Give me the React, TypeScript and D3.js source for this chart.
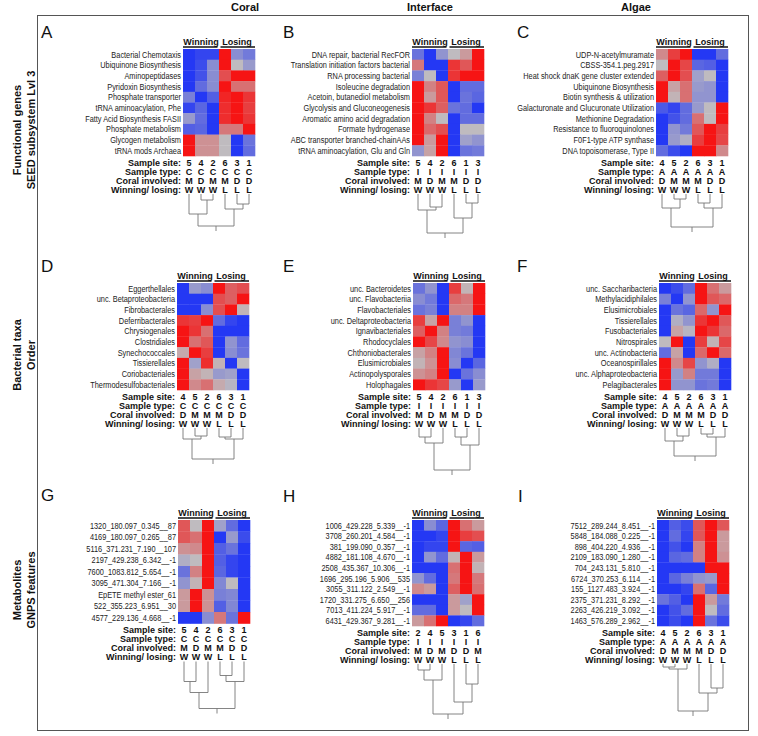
import React from "react";
import * as d3 from "d3";

type Tree = number | [Tree, Tree, number];

// ---------- Column / row headings ----------
const columnTitles = ["Coral", "Interface", "Algae"];
const rowTitles = [
  ["Functional genes", "SEED subsystem Lvl 3"],
  ["Bacterial taxa", "Order"],
  ["Metabolites", "GNPS features"],
];
const metaLabels = ["Sample site:", "Sample type:", "Coral involved:", "Winning/ losing:"];
const groupLabels = ["Winning", "Losing"];

// ---------- Panel A ----------
const labelsA = ["Bacterial Chemotaxis", "Ubiquinone Biosynthesis", "Aminopeptidases", "Pyridoxin Biosynthesis", "Phosphate transporter", "tRNA aminoacylation, Phe", "Fatty Acid Biosynthesis FASII", "Phosphate metabolism", "Glycogen metabolism", "tRNA mods Archaea"];
const sitesA = ["5", "4", "2", "6", "3", "1"];
const typesA = ["C", "C", "C", "C", "C", "C"];
const coralA = ["M", "D", "M", "M", "D", "D"];
const outcomeA = ["W", "W", "W", "L", "L", "L"];
const valuesA = [
  [-1, -0.9, -0.9, 1, -0.35, -0.5],
  [-1, -0.85, -0.35, 1, 0, -0.25],
  [-1, -0.8, -0.35, 0.65, 1, 1],
  [-1, -0.6, -0.35, 1, 0.45, 0.45],
  [-0.45, -1, -0.7, 0.9, 1, 0.8],
  [-0.9, -0.65, -1, 0.85, 1, 0.75],
  [-0.25, -0.6, -1, 0.85, 1, 0.8],
  [-0.7, -0.65, -1, 0.4, 0.4, 1],
  [1, 0.25, 0.25, 0, -1, -0.55],
  [1, 0.25, 0.25, 0, -1, -0.6],
];
const treeA: Tree = [[0, [1, 2, 6], 20], [3, [4, 5, 10], 15], 32];

// ---------- Panel B ----------
const labelsB = ["DNA repair, bacterial RecFOR", "Translation initiation factors bacterial", "RNA processing bacterial", "Isoleucine degradation", "Acetoin, butanediol metabolism", "Glycolysis and Gluconeogenesis", "Aromatic amino acid degradation", "Formate hydrogenase", "ABC transporter branched-chainAAs", "tRNA aminoacylation, Glu and Gln"];
const sitesB = ["5", "4", "2", "6", "1", "3"];
const typesB = ["I", "I", "I", "I", "I", "I"];
const coralB = ["M", "D", "M", "M", "D", "D"];
const outcomeB = ["W", "W", "W", "L", "L", "L"];
const valuesB = [
  [-0.55, -1, -0.3, 0, 0.2, 1],
  [0.4, -1, -1, 0.8, 0.6, 1],
  [-0.45, 0, -1, 0.8, 1, 1],
  [1, 0.35, 0.6, -1, -0.6, -0.6],
  [1, 0.2, 0.6, -1, -0.55, -0.65],
  [1, 0.8, 0.55, -0.55, -0.6, -1],
  [1, 0.35, 0, -1, -0.6, -0.6],
  [1, 0.5, 0.65, -1, 0, 0],
  [1, 0.2, 1, -1, -0.2, -0.3],
  [-0.3, 0.15, 1, -1, -0.55, -0.5],
];
const treeB: Tree = [[0, [1, 2, 13], 16], [3, [4, 5, 9], 24], 39];

// ---------- Panel C ----------
const labelsC = ["UDP-N-acetylmuramate", "CBSS-354.1.peg.2917", "Heat shock dnaK gene cluster extended", "Ubiquinone Biosynthesis", "Biotin synthesis & utilization", "Galacturonate and Glucuronate Utilization", "Methionine Degradation", "Resistance to fluoroquinolones", "F0F1-type ATP synthase", "DNA topoisomerase, Type II"];
const sitesC = ["4", "5", "2", "6", "3", "1"];
const typesC = ["A", "A", "A", "A", "A", "A"];
const coralC = ["D", "M", "M", "M", "D", "D"];
const outcomeC = ["W", "W", "W", "L", "L", "L"];
const valuesC = [
  [0.3, 0.75, 1, -1, -1, -0.6],
  [0, 1, 0.7, -0.65, -0.7, -1],
  [0.55, 1, 0.65, -0.2, 0, -1],
  [1, 0.15, 0.45, -0.25, -0.3, -1],
  [1, 0.05, 0.45, -0.3, -0.3, -1],
  [-0.75, -0.9, -0.6, -0.25, 0, 1],
  [-1, -0.8, -0.6, 0.45, 0, 1],
  [-1, -0.3, -0.5, 0.6, 1, 0.75],
  [-1, -0.25, -0.1, 0.75, 1, 0.7],
  [-0.6, -0.85, -1, 1, 1, 0.3],
];
const treeC: Tree = [[0, [1, 2, 5], 14], [[3, 4, 9], 5, 14], 33];

// ---------- Panel D ----------
const labelsD = ["Eggerthellales", "unc. Betaproteobacteria", "Fibrobacterales", "Deferribacterales", "Chrysiogenales", "Clostridiales", "Synechococcales", "Tissierellales", "Coriobacteriales", "Thermodesulfobacteriales"];
const sitesD = ["4", "5", "2", "6", "3", "1"];
const typesD = ["C", "C", "C", "C", "C", "C"];
const coralD = ["D", "M", "M", "M", "D", "D"];
const outcomeD = ["W", "W", "W", "L", "L", "L"];
const valuesD = [
  [-1, -0.25, -0.35, 1, 0.55, 0.65],
  [-1, -1, -1, 0.65, 0.55, 1],
  [-1, -1, -0.35, 0.65, 1, 0.05],
  [0.8, 0.75, 1, -0.6, -0.9, -1],
  [1, 0.8, 0.45, -1, -1, -1],
  [1, 0.45, 0.6, -1, -0.3, -0.6],
  [0.1, 1, 0.75, -1, -0.35, -0.55],
  [1, -0.2, 0.85, 0.05, -1, 0],
  [1, 0.15, 0.05, -0.25, -0.2, -1],
  [1, 0.3, 0.45, 0.1, -0.05, -1],
];
const treeD: Tree = [[0, [1, 2, 8], 11], [[3, 4, 9], 5, 11], 31];

// ---------- Panel E ----------
const labelsE = ["unc. Bacteroidetes", "unc. Flavobacteriia", "Flavobacteriales", "unc. Deltaproteobacteria", "Ignavibacteriales", "Rhodocyclales", "Chthoniobacterales", "Elusimicrobiales", "Actinopolysporales", "Holophagales"];
const sitesE = ["5", "4", "2", "6", "1", "3"];
const typesE = ["I", "I", "I", "I", "I", "I"];
const coralE = ["M", "D", "M", "M", "D", "D"];
const outcomeE = ["W", "W", "W", "L", "L", "L"];
const valuesE = [
  [-0.55, -0.3, -1, 0.75, 0.05, 1],
  [-0.35, -0.5, -1, 0.5, 0.4, 1],
  [-0.55, -0.45, -1, 0.35, 0.35, 1],
  [0.75, 0.15, 1, -0.45, -0.3, -1],
  [0.55, 1, 0.35, -0.45, -0.5, -1],
  [1, 0.7, 0.3, -0.3, -0.35, -1],
  [0.15, 0.35, 1, -0.4, -0.55, -1],
  [0.05, 0.25, 1, -0.35, -1, -0.65],
  [0.25, 0.35, 1, -1, -0.55, -0.35],
  [1, 0.8, 0.7, -0.25, -1, -0.25],
];
const treeE: Tree = [[[0, 1, 9], 2, 15], [[3, 4, 9], 5, 17], 42];

// ---------- Panel F ----------
const labelsF = ["unc. Saccharibacteria", "Methylacidiphilales", "Elusimicrobiales", "Tissierellales", "Fusobacteriales", "Nitrospirales", "unc. Actinobacteria", "Oceanospirillales", "unc. Alphaproteobacteria", "Pelagibacterales"];
const sitesF = ["4", "5", "2", "6", "3", "1"];
const typesF = ["A", "A", "A", "A", "A", "A"];
const coralF = ["D", "M", "M", "M", "D", "D"];
const outcomeF = ["W", "W", "W", "L", "L", "L"];
const valuesF = [
  [-1, -0.85, -0.6, 1, 0.45, 0.2],
  [-0.45, -1, -0.3, 1, 0.6, 0.5],
  [-1, -0.55, -0.65, 0.5, -0.3, 1],
  [-1, -0.1, -0.3, 0.8, 1, 0.6],
  [-1, 0.15, -0.05, 1, 0.8, 0.5],
  [0, 1, -1, 0.75, 0.05, 0.7],
  [-0.6, 0.15, -1, 0.5, 1, 0.5],
  [1, 0.3, 0.7, -0.3, -0.1, -1],
  [1, -0.25, 0.35, -0.5, -0.5, -1],
  [1, -0.3, -0.3, -0.55, -0.5, -1],
];
const treeF: Tree = [[0, [1, 2, 8], 13], [[3, 4, 6], 5, 9], 28];

// ---------- Panel G ----------
const labelsG = ["1320_180.097_0.345__87", "4169_180.097_0.265__87", "5116_371.231_7.190__107", "2197_429.238_6.342__-1", "7600_1083.812_5.654__-1", "3095_471.304_7.166__-1", "EpETE methyl ester_61", "522_355.223_6.951__30", "4577_229.136_4.668__-1"];
const sitesG = ["5", "4", "2", "6", "3", "1"];
const typesG = ["C", "C", "C", "C", "C", "C"];
const coralG = ["M", "D", "M", "M", "D", "D"];
const outcomeG = ["W", "W", "W", "L", "L", "L"];
const valuesG = [
  [0.6, 0, 1, -0.2, -0.6, -1],
  [0.6, 0.45, 1, -1, -0.25, -0.85],
  [0.25, 0.3, 1, -0.7, -0.55, -1],
  [-0.1, 0, 1, -0.7, -0.9, -1],
  [-0.55, 0.35, 1, -0.65, -0.9, -1],
  [-0.3, 0.05, 1, -0.4, 0, -1],
  [0.2, 1, 0.25, -0.45, -0.4, -1],
  [0.2, 1, 0.25, -0.7, -0.4, -1],
  [-1, -1, -0.35, 0.4, -0.55, 1],
];
const treeG: Tree = [[[0, 1, 20], 2, 31], [[3, 4, 14], 5, 20], 47];

// ---------- Panel H ----------
const labelsH = ["1006_429.228_5.339__-1", "3708_260.201_4.584__-1", "381_199.090_0.357__-1", "4882_181.108_4.670__-1", "2508_435.367_10.306__-1", "1696_295.196_5.906__535", "3055_311.122_2.549__-1", "1720_331.275_6.650__256", "7013_411.224_5.917__-1", "6431_429.367_9.281__-1"];
const sitesH = ["2", "4", "5", "3", "1", "6"];
const typesH = ["I", "I", "I", "I", "I", "I"];
const coralH = ["M", "D", "M", "D", "D", "M"];
const outcomeH = ["W", "W", "W", "L", "L", "L"];
const valuesH = [
  [-1, -0.35, -0.65, 1, 0.45, 0.2],
  [-1, -1, -0.9, 1, 0.75, 0.65],
  [-1, -0.9, -0.9, 1, -0.65, -0.7],
  [-1, -0.3, -0.6, 0.05, 1, 0.2],
  [-1, -1, -1, 0.45, 1, 0.05],
  [-0.3, -0.6, -1, 0.4, 1, 0.4],
  [0.3, 0.2, -1, 0.55, 1, 0.45],
  [-1, -1, -1, 0.2, -0.2, 1],
  [-0.6, -0.6, -1, 0.2, 0, 1],
  [0.2, 0.45, 1, -1, -0.9, -0.6],
];
const treeH: Tree = [[[0, 1, 6], 2, 16], [3, [4, 5, 20], 38], 50];

// ---------- Panel I ----------
const labelsI = ["7512_289.244_8.451__-1", "5848_184.088_0.225__-1", "898_404.220_4.936__-1", "2109_183.090_1.280__-1", "704_243.131_5.810__-1", "6724_370.253_6.114__-1", "155_1127.483_3.924__-1", "2375_371.231_8.292__-1", "2263_426.219_3.092__-1", "1463_576.289_2.962__-1"];
const sitesI = ["4", "5", "2", "6", "3", "1"];
const typesI = ["A", "A", "A", "A", "A", "A"];
const coralI = ["D", "M", "M", "M", "D", "D"];
const outcomeI = ["W", "W", "W", "L", "L", "L"];
const valuesI = [
  [-1, -0.7, -0.85, 0.6, 1, 0.6],
  [-1, -0.6, -0.9, 0.6, 1, 0.2],
  [-1, -0.8, -1, 0.35, 1, 0.2],
  [-1, -0.65, -0.6, 0.35, 1, 0.25],
  [-1, -1, -1, -1, 1, 1],
  [-1, -0.65, -0.45, -0.3, -0.25, 1],
  [-1, -1, -0.9, 0.45, -0.65, 1],
  [-0.55, -0.7, -1, 1, 0.2, -0.5],
  [-1, -0.8, -0.6, 1, 0, -0.6],
  [-1, -0.85, -1, 1, -0.55, -0.85],
];
const treeI: Tree = [[[0, 1, 3], 2, 5], [3, [4, 5, 24], 29], 47];

// ---------- assembly ----------
const panels = [
  { id: "A", labels: labelsA, sites: sitesA, types: typesA, coral: coralA, outcome: outcomeA, values: valuesA, tree: treeA },
  { id: "B", labels: labelsB, sites: sitesB, types: typesB, coral: coralB, outcome: outcomeB, values: valuesB, tree: treeB },
  { id: "C", labels: labelsC, sites: sitesC, types: typesC, coral: coralC, outcome: outcomeC, values: valuesC, tree: treeC },
  { id: "D", labels: labelsD, sites: sitesD, types: typesD, coral: coralD, outcome: outcomeD, values: valuesD, tree: treeD },
  { id: "E", labels: labelsE, sites: sitesE, types: typesE, coral: coralE, outcome: outcomeE, values: valuesE, tree: treeE },
  { id: "F", labels: labelsF, sites: sitesF, types: typesF, coral: coralF, outcome: outcomeF, values: valuesF, tree: treeF },
  { id: "G", labels: labelsG, sites: sitesG, types: typesG, coral: coralG, outcome: outcomeG, values: valuesG, tree: treeG },
  { id: "H", labels: labelsH, sites: sitesH, types: typesH, coral: coralH, outcome: outcomeH, values: valuesH, tree: treeH },
  { id: "I", labels: labelsI, sites: sitesI, types: typesI, coral: coralI, outcome: outcomeI, values: valuesI, tree: treeI },
];

// layout (positions only)
const layout: Record<string, { x: number; y: number; rowH: number; lx: number; ly: number }> = {
  A: { x: 183, y: 49, rowH: 10.7, lx: 41, ly: 38 },
  B: { x: 412, y: 49, rowH: 10.7, lx: 283, ly: 38 },
  C: { x: 656, y: 49, rowH: 10.7, lx: 517, ly: 38 },
  D: { x: 177, y: 283, rowH: 10.7, lx: 41, ly: 272 },
  E: { x: 413, y: 283, rowH: 10.7, lx: 283, ly: 272 },
  F: { x: 659, y: 283, rowH: 10.7, lx: 517, ly: 272 },
  G: { x: 178, y: 520, rowH: 11.5, lx: 41, ly: 501 },
  H: { x: 412, y: 520, rowH: 10.6, lx: 283, ly: 502 },
  I: { x: 657, y: 520, rowH: 10.6, lx: 518, ly: 502 },
};
const colTitleX = [245, 430, 636];
const rowTitleY = [130, 355, 590];

const FONT = "'Liberation Sans', Arial, Helvetica, sans-serif";
const color = d3
  .scaleLinear<string>()
  .domain([-1, 0, 1])
  .range(["#2438f4", "#bfbbbf", "#f61414"])
  .interpolate(d3.interpolateRgb);

function Panel({ p }: { p: (typeof panels)[number] }) {
  const L = layout[p.id];
  const n = p.labels.length;
  const cols = d3.range(6);
  const x = d3.scaleBand<number>().domain(cols).range([L.x, L.x + 72]);
  const y = d3.scaleBand<number>().domain(d3.range(n)).range([L.y, L.y + L.rowH * n]);
  const bottom = L.y + L.rowH * n;
  const meta = [p.sites, p.types, p.coral, p.outcome];
  const leafTop = bottom + 38;
  const segs: [number, number, number, number][] = [];
  const walk = (t: Tree): { cx: number; cy: number } => {
    if (typeof t === "number") return { cx: (x(t) as number) + x.bandwidth() / 2, cy: leafTop };
    const l = walk(t[0]);
    const r = walk(t[1]);
    const yy = leafTop + t[2];
    segs.push([l.cx, l.cy, l.cx, yy], [r.cx, r.cy, r.cx, yy], [l.cx, yy, r.cx, yy]);
    return { cx: (l.cx + r.cx) / 2, cy: yy };
  };
  const root = walk(p.tree);
  segs.push([root.cx, root.cy, root.cx, root.cy + 5]);
  const groups = [
    { label: groupLabels[0], x0: x(0) as number, x1: (x(2) as number) + x.bandwidth() },
    { label: groupLabels[1], x0: x(3) as number, x1: (x(5) as number) + x.bandwidth() },
  ];
  return (
    <g>
      <text x={L.lx} y={L.ly} fontSize={17} fontFamily={FONT} fill="#111">
        {p.id}
      </text>
      {groups.map((g, i) => (
        <g key={i}>
          <text x={(g.x0 + g.x1) / 2} y={L.y - 4.5} fontSize={9} fontWeight="bold" textAnchor="middle" fontFamily={FONT} fill="#111">
            {g.label}
          </text>
          <line x1={g.x0 + (i === 0 ? 0 : 1.5)} x2={g.x1 - (i === 0 ? 1.5 : 0)} y1={L.y - 2} y2={L.y - 2} stroke="#111" strokeWidth={1.3} />
        </g>
      ))}
      {p.values.map((row, ri) =>
        row.map((v, ci) => (
          <rect key={ri + "-" + ci} x={x(ci)} y={y(ri)} width={x.bandwidth() + 0.3} height={y.bandwidth() + 0.3} fill={color(v)} />
        ))
      )}
      {p.labels.map((lab, ri) => (
        <text
          key={ri}
          transform={`translate(${L.x - 2},${(y(ri) as number) + y.bandwidth() / 2 + 3.2}) scale(0.82,1)`}
          fontSize={9}
          textAnchor="end"
          fontFamily={FONT}
          fill="#222"
        >
          {lab}
        </text>
      ))}
      {metaLabels.map((m, mi) => (
        <g key={mi}>
          <text x={L.x - 2} y={bottom + 9.5 + mi * 9} fontSize={9} fontWeight="bold" textAnchor="end" fontFamily={FONT} fill="#111">
            {m}
          </text>
          {meta[mi].map((v, ci) => (
            <text key={ci} x={(x(ci) as number) + x.bandwidth() / 2} y={bottom + 9.5 + mi * 9} fontSize={9} fontWeight="bold" textAnchor="middle" fontFamily={FONT} fill="#111">
              {v}
            </text>
          ))}
        </g>
      ))}
      {segs.map((s, i) => (
        <line key={i} x1={s[0]} y1={s[1]} x2={s[2]} y2={s[3]} stroke="#777" strokeWidth={0.9} />
      ))}
    </g>
  );
}

export default function App() {
  return (
    <svg width={758} height={736} style={{ position: "absolute", left: 0, top: 0, background: "#fff" }}>
      <rect x={0} y={0} width={758} height={736} fill="#fff" />
      {columnTitles.map((t, i) => (
        <text key={t} x={colTitleX[i]} y={11} fontSize={11} fontWeight="bold" textAnchor="middle" fontFamily={FONT} fill="#111">
          {t}
        </text>
      ))}
      <rect x={37.5} y={15.5} width={711} height={715} fill="none" stroke="#555" strokeWidth={1} />
      {rowTitles.map((lines, i) => (
        <g key={i}>
          {lines.map((l, j) => (
            <text
              key={j}
              transform={`translate(${21 + j * 14},${rowTitleY[i]}) rotate(-90)`}
              fontSize={11}
              fontWeight="bold"
              textAnchor="middle"
              fontFamily={FONT}
              fill="#111"
            >
              {l}
            </text>
          ))}
        </g>
      ))}
      {panels.map((p) => (
        <Panel key={p.id} p={p} />
      ))}
    </svg>
  );
}
